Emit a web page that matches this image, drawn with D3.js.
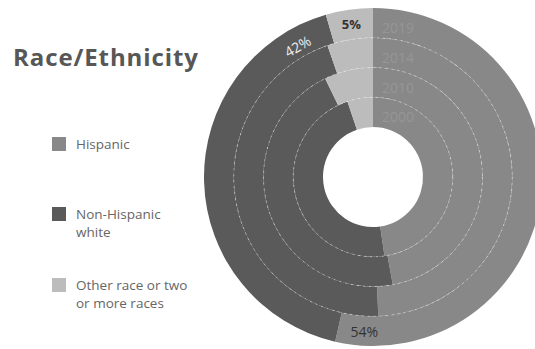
<!DOCTYPE html>
<html>
<head>
<meta charset="utf-8">
<script src="https://cdn.jsdelivr.net/npm/d3@7/dist/d3.min.js"></script>
<style>
  html, body { margin: 0; padding: 0; background: #fff; }
  svg { display: block; }
</style>
</head>
<body>
<svg id="chart" width="535" height="349"></svg>
<script>
// Share of population by race/ethnicity, one ring per year (inner = oldest)
const years = ["2000", "2010", "2014", "2019"];
const groups = ["Hispanic", "Non-Hispanic white", "Other race or two or more races"];
const hispanic = [47.7, 47.1, 49.4, 53.6];
const nonHispanicWhite = [47.1, 45.7, 45.3, 41.9];
const otherRace = [5.2, 7.2, 5.3, 4.5];
const legendLines = [["Hispanic"], ["Non-Hispanic", "white"], ["Other race or two", "or more races"]];
const colors = ["#888888", "#5a5a5a", "#bcbcbc"];

const svg = d3.select("#chart");
const cx = 373, cy = 177;

// Title
svg.append("text")
  .attr("x", 13).attr("y", 66)
  .attr("font-family", "Open Sans, sans-serif")
  .attr("font-weight", "bold")
  .attr("font-size", 24)
  .attr("letter-spacing", 0.9)
  .attr("fill", "#575757")
  .text("Race/Ethnicity");

// Legend
const legendY = [137, 207, 278];
const legend = svg.append("g");
groups.forEach((g, i) => {
  legend.append("rect")
    .attr("x", 52).attr("y", legendY[i])
    .attr("width", 14).attr("height", 14)
    .attr("fill", colors[i]);
  legendLines[i].forEach((line, j) => {
    legend.append("text")
      .attr("x", 76).attr("y", legendY[i] + 12 + j * 18)
      .attr("font-family", "Open Sans, sans-serif")
      .attr("font-size", 13.5)
      .attr("fill", "#666")
      .text(line);
  });
});

// Rings
const radius = d3.scaleBand().domain(years).range([50, 169]).paddingInner(0);
const color = d3.scaleOrdinal().domain(groups).range(colors);
const pie = d3.pie().sort(null).value(d => d.value);
const chart = svg.append("g").attr("transform", `translate(${cx},${cy})`);

years.forEach((yr, i) => {
  const data = [
    { group: groups[0], value: hispanic[i] },
    { group: groups[1], value: nonHispanicWhite[i] },
    { group: groups[2], value: otherRace[i] }
  ];
  const arc = d3.arc()
    .innerRadius(radius(yr))
    .outerRadius(radius(yr) + radius.bandwidth());
  chart.selectAll(null)
    .data(pie(data))
    .join("path")
    .attr("d", arc)
    .attr("fill", d => color(d.data.group));
});

// Dotted separators between rings
years.slice(1).forEach(yr => {
  chart.append("circle")
    .attr("r", radius(yr))
    .attr("fill", "none")
    .attr("stroke", "#ffffff")
    .attr("stroke-opacity", 0.45)
    .attr("stroke-width", 1)
    .attr("stroke-dasharray", "2,4");
});

// Year labels on each ring
years.forEach(yr => {
  chart.append("text")
    .attr("x", 9)
    .attr("y", -(radius(yr) + radius.bandwidth() * 0.32))
    .attr("dy", "0.35em")
    .attr("font-family", "Open Sans, sans-serif")
    .attr("font-size", 14)
    .attr("fill", "#969696")
    .text(yr);
});

// Value labels on the outermost ring
const last = years.length - 1;
const outerPie = pie([
  { group: groups[0], value: hispanic[last] },
  { group: groups[1], value: nonHispanicWhite[last] },
  { group: groups[2], value: otherRace[last] }
]);
const labelR = radius(years[last]) + radius.bandwidth() * 0.55;
const polar = (a, r) => [r * Math.sin(a), -r * Math.cos(a)];
const fmt = v => Math.round(v) + "%";

// Hispanic: near the end of its arc, just past the bottom
{
  const a = outerPie[0].endAngle - 0.17;
  const [x, y] = polar(a, labelR);
  chart.append("text")
    .attr("x", x).attr("y", y).attr("dy", "0.35em")
    .attr("text-anchor", "middle")
    .attr("font-family", "Open Sans, sans-serif")
    .attr("font-size", 14)
    .attr("fill", "#333")
    .text(fmt(hispanic[last]));
}
// Non-Hispanic white: upper left, along the ring
{
  const a = outerPie[1].endAngle - 0.24;
  const [x, y] = polar(a, labelR - 5);
  const deg = a * 180 / Math.PI - 360;
  chart.append("text")
    .attr("transform", `translate(${x},${y}) rotate(${deg})`)
    .attr("dy", "0.35em")
    .attr("text-anchor", "middle")
    .attr("font-family", "Open Sans, sans-serif")
    .attr("font-size", 14)
    .attr("fill", "#eeeeee")
    .text(fmt(nonHispanicWhite[last]));
}
// Other: centre of its slice
{
  const a = (outerPie[2].startAngle + outerPie[2].endAngle) / 2;
  const [x, y] = polar(a, labelR - 2);
  chart.append("text")
    .attr("x", x).attr("y", y).attr("dy", "0.35em")
    .attr("text-anchor", "middle")
    .attr("font-family", "Open Sans, sans-serif")
    .attr("font-size", 13)
    .attr("font-weight", "bold")
    .attr("fill", "#333")
    .text(fmt(otherRace[last]));
}
</script>
</body>
</html>
